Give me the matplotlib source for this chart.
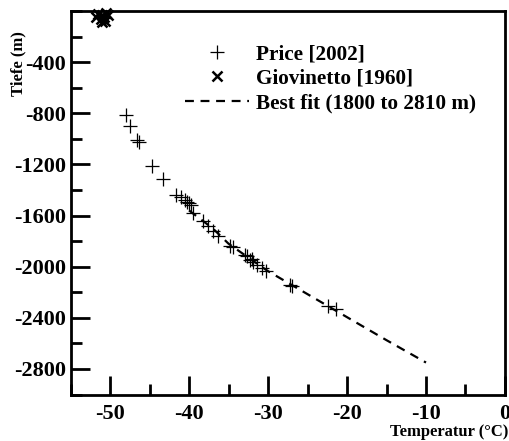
import matplotlib.pyplot as plt
from matplotlib.ticker import MultipleLocator

# Price [2002] borehole temperatures
price_temp = [-48.0, -47.5, -46.6, -46.3, -44.7, -43.3, -41.6, -41.0, -40.5, -40.2,
              -40.0, -39.8, -39.5, -38.2, -37.6, -37.0, -36.3, -34.8, -34.4, -32.9,
              -32.7, -32.3, -32.0, -31.9, -31.4, -30.8, -30.2, -27.2, -27.0, -22.4, -21.4]
price_depth = [-814, -899, -1008, -1022, -1211, -1315, -1437, -1458, -1478, -1495,
               -1505, -1516, -1580, -1645, -1685, -1724, -1763, -1841, -1845, -1906,
               -1919, -1945, -1937, -1966, -1984, -2010, -2036, -2140, -2153, -2309, -2335]

# Giovinetto [1960] shallow measurements
gio_temp = [-51.5, -51.0, -50.5, -51.2, -50.8, -51.8, -50.3, -51.0, -50.6]
gio_depth = [-20, -35, -15, -60, -50, -45, -30, -85, -75]

# best fit curve
fit_temp = [-40, -37, -35, -32, -30, -25, -20, -15, -10]
fit_depth = [-1560, -1700, -1820, -1950, -2035, -2215, -2395, -2575, -2750]

plt.rcParams["font.family"] = ["Liberation Serif", "DejaVu Serif"]
plt.rcParams["font.weight"] = "bold"
plt.rcParams["axes.unicode_minus"] = False

fig = plt.figure(figsize=(5.1, 4.41), dpi=100)
ax = fig.add_axes([70.5 / 510, 1 - 394.5 / 441, 434.5 / 510, 383.5 / 441])

ax.plot(price_temp, price_depth, "+", color="black", markersize=10, markeredgewidth=0.9,
        label="Price [2002]")
ax.plot(gio_temp, gio_depth, "x", color="black", markersize=7, markeredgewidth=1.8,
        label="Giovinetto [1960]", clip_on=False)
ax.plot(fit_temp, fit_depth, "--", color="black", linewidth=1.6, dashes=(4, 3),
        label="Best fit (1800 to 2810 m)")

ax.set_xlim(-55, 0)
ax.set_ylim(-3000, 0)
ax.xaxis.set_minor_locator(MultipleLocator(5))
ax.yaxis.set_minor_locator(MultipleLocator(200))
ax.set_xticks([-50, -40, -30, -20, -10, 0])
ax.set_yticks([-2800, -2400, -2000, -1600, -1200, -800, -400])

ax.tick_params(which="major", direction="in", length=14, width=2, labelsize=16, pad=3)
ax.tick_params(axis="x", which="major", pad=7)
ax.tick_params(which="minor", direction="in", length=8, width=2)
ax.tick_params(top=False, right=False, which="both")
for lab in ax.get_xticklabels() + ax.get_yticklabels():
    lab.set_fontweight("bold")
for s in ax.spines.values():
    s.set_linewidth(2)

fig.text(18 / 510, 1 - 64 / 441, "Tiefe (m)", rotation=90, ha="center", va="center",
         fontsize=12, fontweight="bold")
fig.text(508 / 510, 1 - 432 / 441, "Temperatur (°C)", ha="right", va="center",
         fontsize=12, fontweight="bold")

leg = ax.legend(loc="upper left", bbox_to_anchor=(106 / 434.5, 1 - 25 / 383.5),
                frameon=False, fontsize=15.3, handlelength=3.0, handletextpad=0.35,
                labelspacing=0.2, borderaxespad=0)
for t in leg.get_texts():
    t.set_fontweight("bold")

fig.savefig("out.png", dpi=100)
